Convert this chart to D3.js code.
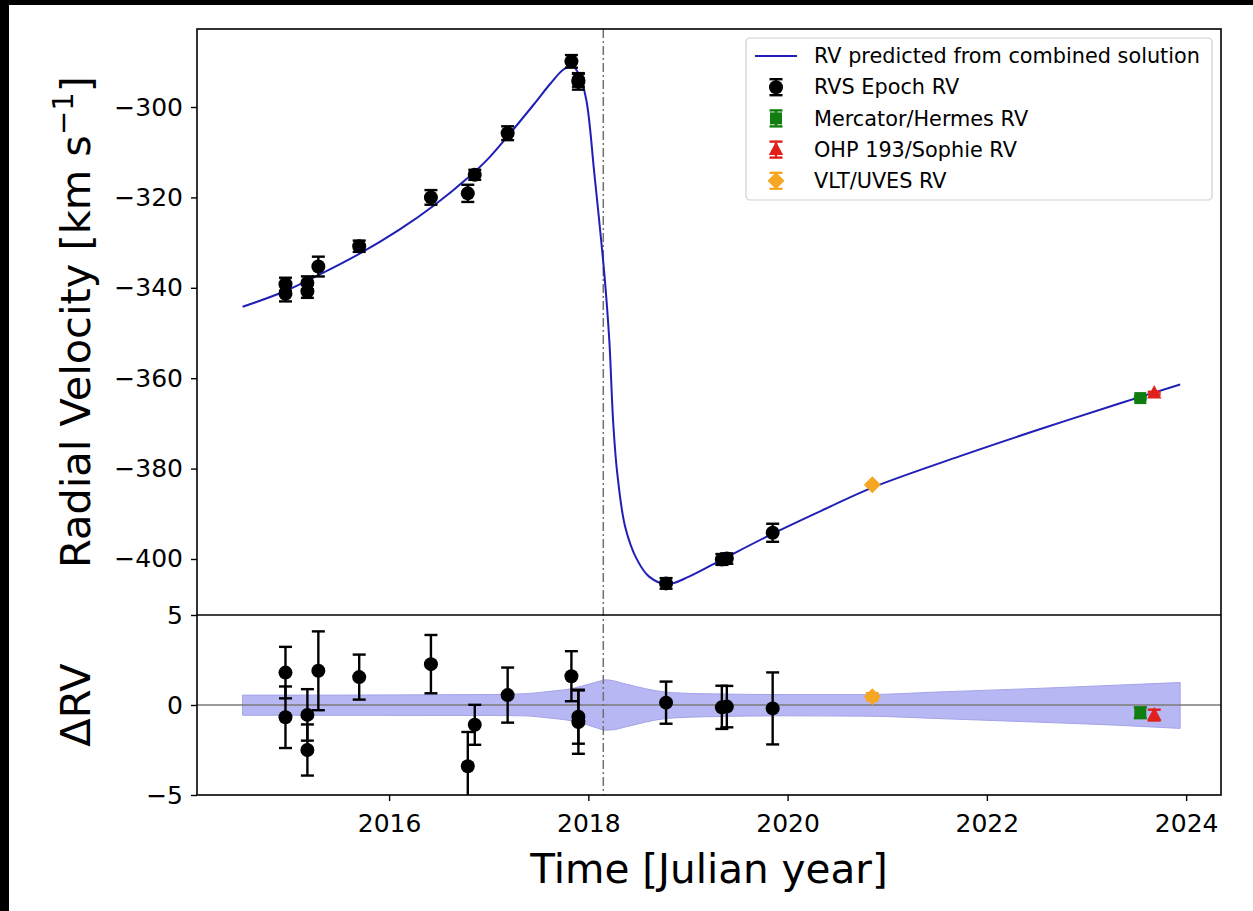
<!DOCTYPE html>
<html>
<head>
<meta charset="utf-8">
<script src="https://cdn.jsdelivr.net/npm/d3@7"></script>
<style>
  html, body { margin: 0; padding: 0; background: #fff; }
  svg { display: block; }
  text { font-family: "DejaVu Sans", sans-serif; fill: #000; }
</style>
</head>
<body>
<svg id="chart" width="1253" height="911"></svg>
<script>
// ---------------- data ----------------
const xTicks = [2016, 2018, 2020, 2022, 2024];
const rvTicks = [-400, -380, -360, -340, -320, -300];
const resTicks = [-5, 0, 5];

// Model curve: RV predicted from combined solution
const modelTime = [2014.53, 2014.96, 2015.30, 2015.70, 2016.10, 2016.45, 2016.80, 2017.00, 2017.20, 2017.45, 2017.62, 2017.75, 2017.84, 2017.91, 2017.98, 2018.06, 2018.16, 2018.21, 2018.25, 2018.29, 2018.37, 2018.49, 2018.61, 2018.79, 2019.01, 2019.37, 2019.85, 2020.37, 2020.85, 2021.73, 2022.53, 2023.33, 2023.94];
const modelRV   = [-344.2, -340.7, -337.1, -332.5, -327.2, -321.8, -315.5, -311.3, -306.2, -299.5, -294.8, -291.7, -290.9, -293.0, -298.5, -314.7, -336.8, -351.5, -370.0, -381.0, -392.9, -400.2, -403.9, -405.6, -403.9, -399.8, -394.4, -389.0, -384.2, -377.25, -371.3, -365.6, -361.4];

// RVS epoch RV (Gaia)
const rvsTime = [2014.96, 2014.96, 2015.18, 2015.18, 2015.29, 2015.70, 2016.42, 2016.79, 2016.86, 2017.19, 2017.83, 2017.90, 2017.90, 2018.78, 2019.34, 2019.39, 2019.85];
const rvsRV   = [-339.2, -341.3, -338.9, -340.8, -335.3, -330.8, -320.0, -319.1, -315.0, -305.8, -289.9, -294.0, -294.4, -405.4, -400.1, -399.9, -394.2];
const rvsErr  = [1.43, 1.71, 1.43, 1.42, 2.19, 1.25, 1.62, 1.9, 1.11, 1.53, 1.39, 1.5, 1.76, 1.17, 1.2, 1.15, 2.0];
const rvsRes  = [1.8, -0.68, -0.55, -2.5, 1.9, 1.55, 2.27, -3.4, -1.1, 0.55, 1.6, -0.65, -0.95, 0.13, -0.13, -0.09, -0.19];

// Ground-based RVs
const hermesTime = [2023.54], hermesRV = [-364.4], hermesErr = [0.3], hermesRes = [-0.43];
const sophieTime = [2023.68], sophieRV = [-363.3], sophieErr = [0.3], sophieRes = [-0.56];
const uvesTime   = [2020.85], uvesRV   = [-383.6], uvesErr   = [0.2], uvesRes   = [0.46];

// Uncertainty band of the model in the residual panel
const bandTime = [2014.53, 2015.5, 2016.5, 2017.0, 2017.35, 2017.6, 2017.85, 2018.0, 2018.1, 2018.17, 2018.25, 2018.35, 2018.5, 2018.65, 2018.85, 2019.2, 2020.0, 2020.8, 2021.5, 2022.5, 2023.3, 2023.94];
const bandHi   = [0.55, 0.55, 0.57, 0.58, 0.62, 0.75, 0.93, 1.15, 1.3, 1.4, 1.35, 1.2, 1.0, 0.82, 0.68, 0.62, 0.58, 0.58, 0.72, 0.92, 1.1, 1.25];
const bandLo   = [-0.57, -0.57, -0.58, -0.58, -0.6, -0.72, -0.9, -1.12, -1.3, -1.4, -1.38, -1.25, -1.05, -0.86, -0.72, -0.65, -0.6, -0.62, -0.75, -0.95, -1.12, -1.3];

const gaiaRefEpoch = 2018.15;  // vertical dash-dot line

const legendLabels = ["RV predicted from combined solution", "RVS Epoch RV", "Mercator/Hermes RV", "OHP 193/Sophie RV", "VLT/UVES RV"];

// ---------------- layout ----------------
const svg = d3.select("#chart");
const L = 197, R = 1221, T = 29, MID = 615, B = 795;

const x = d3.scaleLinear().domain([2014.072, 2024.35]).range([L, R]);
const y = d3.scaleLinear().domain([-412.39, -282.74]).range([MID, T]);
const yr = d3.scaleLinear().domain([-5, 5]).range([B, MID]);

const BLUE = "#1f1fb8", GREEN = "#0f7d0f", RED = "#e0201a", ORANGE = "#f5a623";

svg.append("rect").attr("x", 0).attr("y", 0).attr("width", 1253).attr("height", 911).attr("fill", "#fff");

// clip paths
svg.append("clipPath").attr("id", "clipTop").append("rect").attr("x", L).attr("y", T).attr("width", R - L).attr("height", MID - T);
svg.append("clipPath").attr("id", "clipBot").append("rect").attr("x", L).attr("y", MID).attr("width", R - L).attr("height", B - MID);

// ---------- bottom panel content ----------
const gB = svg.append("g").attr("clip-path", "url(#clipBot)");
const band = bandTime.map((t, i) => ({ t, hi: bandHi[i], lo: bandLo[i] }));
gB.append("path")
  .datum(band)
  .attr("d", d3.area().x(d => x(d.t)).y0(d => yr(d.lo)).y1(d => yr(d.hi)).curve(d3.curveMonotoneX))
  .attr("fill", "#b7b7f3").attr("stroke", "#a3a3ea").attr("stroke-width", 1);
gB.append("line").attr("x1", L).attr("x2", R).attr("y1", yr(0)).attr("y2", yr(0))
  .attr("stroke", "#7a7a7a").attr("stroke-width", 1.6);

// ---------- dash-dot line ----------
svg.append("line").attr("x1", x(gaiaRefEpoch)).attr("x2", x(gaiaRefEpoch)).attr("y1", T).attr("y2", B)
  .attr("stroke", "#707070").attr("stroke-width", 1.5).attr("stroke-dasharray", "9,3,2,3");

// ---------- top panel content ----------
const gT = svg.append("g").attr("clip-path", "url(#clipTop)");
const model = modelTime.map((t, i) => ({ t, v: modelRV[i] }));
gT.append("path").datum(model)
  .attr("d", d3.line().x(d => x(d.t)).y(d => y(d.v)).curve(d3.curveCatmullRom.alpha(0.5)))
  .attr("fill", "none").attr("stroke", BLUE).attr("stroke-width", 2);

// helpers
function errorbar(g, xs, ys, es, ys2, color, cap) {
  xs.forEach((t, i) => {
    const cx = x(t), y1 = ys2(ys[i] - es[i]), y2 = ys2(ys[i] + es[i]);
    g.append("line").attr("x1", cx).attr("x2", cx).attr("y1", y1).attr("y2", y2).attr("stroke", color).attr("stroke-width", 2.4);
    [y1, y2].forEach(yy => g.append("line").attr("x1", cx - cap).attr("x2", cx + cap).attr("y1", yy).attr("y2", yy).attr("stroke", color).attr("stroke-width", 2.4));
  });
}
function marker(g, kind, cx, cy, color) {
  if (kind === "circle") {
    g.append("circle").attr("cx", cx).attr("cy", cy).attr("r", 7).attr("fill", color);
  } else if (kind === "square") {
    g.append("rect").attr("x", cx - 6).attr("y", cy - 6).attr("width", 12).attr("height", 12).attr("fill", color);
  } else if (kind === "triangle") {
    g.append("path").attr("d", `M${cx},${cy - 8}L${cx + 7.2},${cy + 5.5}L${cx - 7.2},${cy + 5.5}Z`).attr("fill", color);
  } else if (kind === "diamond") {
    g.append("path").attr("d", `M${cx},${cy - 8.5}L${cx + 8.5},${cy}L${cx},${cy + 8.5}L${cx - 8.5},${cy}Z`).attr("fill", color);
  }
}
const sets = [
  { t: rvsTime, v: rvsRV, e: rvsErr, r: rvsRes, c: "#000", k: "circle" },
  { t: hermesTime, v: hermesRV, e: hermesErr, r: hermesRes, c: GREEN, k: "square" },
  { t: sophieTime, v: sophieRV, e: sophieErr, r: sophieRes, c: RED, k: "triangle" },
  { t: uvesTime, v: uvesRV, e: uvesErr, r: uvesRes, c: ORANGE, k: "diamond" }
];
sets.forEach(s => {
  errorbar(gT, s.t, s.v, s.e, y, s.c, 6.5);
  s.t.forEach((t, i) => marker(gT, s.k, x(t), y(s.v[i]), s.c));
  errorbar(gB, s.t, s.r, s.e, yr, s.c, 6.5);
  s.t.forEach((t, i) => marker(gB, s.k, x(t), yr(s.r[i]), s.c));
});

// ---------- frames & axes ----------
svg.append("rect").attr("x", L).attr("y", T).attr("width", R - L).attr("height", B - T)
  .attr("fill", "none").attr("stroke", "#000").attr("stroke-width", 1.6);
svg.append("line").attr("x1", L).attr("x2", R).attr("y1", MID).attr("y2", MID).attr("stroke", "#000").attr("stroke-width", 1.6);

const fmt = d3.format("d");
function styleAxis(g) {
  g.select(".domain").remove();
  g.selectAll(".tick line").attr("stroke", "#000").attr("stroke-width", 1.4);
  g.selectAll(".tick text").attr("font-size", 25).attr("font-family", "DejaVu Sans");
}
svg.append("g").attr("transform", `translate(${L},0)`)
  .call(d3.axisLeft(y).tickValues(rvTicks).tickSize(6).tickPadding(8).tickFormat(fmt)).call(styleAxis);
svg.append("g").attr("transform", `translate(${L},0)`)
  .call(d3.axisLeft(yr).tickValues(resTicks).tickSize(6).tickPadding(8).tickFormat(fmt)).call(styleAxis);
svg.append("g").attr("transform", `translate(0,${B})`)
  .call(d3.axisBottom(x).tickValues(xTicks).tickSize(6).tickPadding(13).tickFormat(fmt)).call(styleAxis);

// labels
const yl = svg.append("text").attr("transform", `translate(90,${(T + MID) / 2}) rotate(-90)`)
  .attr("text-anchor", "middle").attr("font-size", 41.5);
yl.append("tspan").text("Radial Velocity [km s");
yl.append("tspan").attr("font-size", 29).attr("dy", -17).text("\u22121");
yl.append("tspan").attr("dy", 17).text("]");

svg.append("text").attr("transform", `translate(90,${yr(0)}) rotate(-90)`)
  .attr("text-anchor", "middle").attr("font-size", 41.5).text("\u0394RV");
svg.append("text").attr("x", 709).attr("y", 883).attr("text-anchor", "middle")
  .attr("font-size", 40.5).text("Time [Julian year]");

// ---------- legend ----------
const lg = svg.append("g");
lg.append("rect").attr("x", 746).attr("y", 38).attr("width", 466).attr("height", 162).attr("rx", 4)
  .attr("fill", "#fff").attr("fill-opacity", 0.85).attr("stroke", "#cfcfcf").attr("stroke-width", 1.2);
const rowY = i => 56 + i * 31.2;
lg.append("line").attr("x1", 755).attr("x2", 797).attr("y1", rowY(0)).attr("y2", rowY(0)).attr("stroke", BLUE).attr("stroke-width", 2);
const legSets = [["#000", "circle"], [GREEN, "square"], [RED, "triangle"], [ORANGE, "diamond"]];
legSets.forEach(([c, k], j) => {
  const cy = rowY(j + 1), cx = 776;
  lg.append("line").attr("x1", cx).attr("x2", cx).attr("y1", cy - 8).attr("y2", cy + 8).attr("stroke", c).attr("stroke-width", 2.4);
  [cy - 8, cy + 8].forEach(yy => lg.append("line").attr("x1", cx - 6.5).attr("x2", cx + 6.5).attr("y1", yy).attr("y2", yy).attr("stroke", c).attr("stroke-width", 2.4));
  marker(lg, k, cx, cy, c);
});
legendLabels.forEach((s, i) => {
  lg.append("text").attr("x", 814).attr("y", rowY(i)).attr("dy", "0.35em").attr("font-size", 20.8).text(s);
});

// photo framing (black edges)
svg.append("rect").attr("x", 0).attr("y", 0).attr("width", 1253).attr("height", 5).attr("fill", "#000");
svg.append("rect").attr("x", 0).attr("y", 0).attr("width", 9).attr("height", 911).attr("fill", "#000");
</script>
</body>
</html>
